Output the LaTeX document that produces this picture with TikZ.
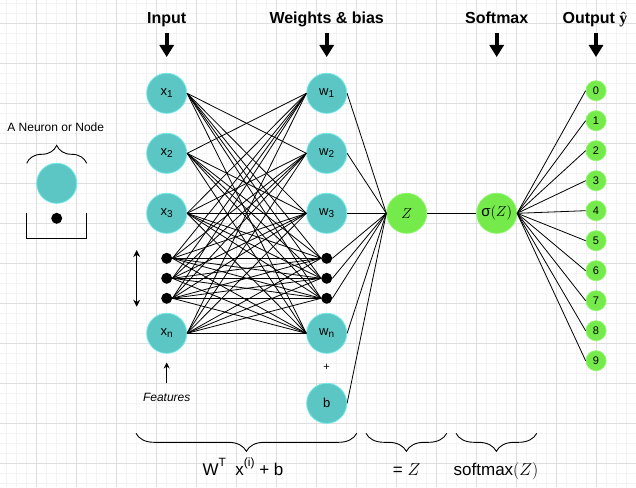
\documentclass[tikz,border=0pt]{standalone}
\usepackage{fontspec}
\setmainfont{Liberation Sans}
\newfontfamily\serifbold{Liberation Serif}
\usetikzlibrary{arrows.meta,decorations.pathreplacing}
\definecolor{gridmaj}{RGB}{222,222,222}
\definecolor{gridmin}{RGB}{243,243,243}
\definecolor{tealfill}{RGB}{92,198,196}
\definecolor{tealedge}{RGB}{110,232,232}
\definecolor{grnfill}{RGB}{116,235,74}
\definecolor{grnedge}{RGB}{140,246,104}
\newcommand{\mysub}[1]{\raisebox{-0.35ex}{\fontsize{10}{12}\selectfont #1}}
\newcommand{\mysup}[1]{\raisebox{0.9ex}{\fontsize{12}{14}\selectfont #1}}
\begin{document}
\begin{tikzpicture}[x=1pt,y=-1pt,
  neuron/.style={circle,minimum size=40pt,inner sep=0pt,fill=tealfill,draw=tealedge,line width=0.8pt,font=\fontsize{13}{15}\selectfont},
  gneuron/.style={circle,minimum size=40pt,inner sep=0pt,fill=grnfill,draw=grnedge,line width=0.8pt,font=\fontsize{15}{17}\selectfont},
  outn/.style={circle,minimum size=20pt,inner sep=0pt,fill=grnfill,draw=grnedge,line width=0.8pt,font=\fontsize{11}{13}\selectfont},
  dotn/.style={circle,minimum size=11pt,inner sep=0pt,fill=black},
  conn/.style={draw=black,line width=0.8pt},
  header/.style={anchor=base,font=\fontsize{16}{19}\selectfont\bfseries},
  bigarrow/.style={line width=3.6pt,-{Triangle[width=14pt,length=12pt]}},
  thinarrow/.style={line width=1pt},
  bracestyle/.style={draw=black,line width=0.9pt,decorate,decoration={brace,amplitude=18pt}},
  lbl/.style={anchor=base,font=\fontsize{17}{20}\selectfont}
]
\useasboundingbox (0,0) rectangle (636,487);
\fill[white] (0,0) rectangle (636,487);
% grid
\foreach \x in {6.7,16.7,...,636} \draw[gridmin,line width=0.8pt] (\x,0) -- (\x,487);
\foreach \y in {3.3,13.3,...,487} \draw[gridmin,line width=0.8pt] (0,\y) -- (636,\y);
\foreach \x in {36.7,76.7,...,636} \draw[gridmaj,line width=0.8pt] (\x,0) -- (\x,487);
\foreach \y in {23.3,63.3,...,487} \draw[gridmaj,line width=0.8pt] (0,\y) -- (636,\y);

% headers
\node[header] (hin) at (166.7,23.3) {Input};
\node[header] (hw) at (326.7,23.3) {Weights \& bias};
\node[header] (hs) at (496.7,23.3) {Softmax};
\node[header] (ho) at (595,23.3) {Output {\serifbold ŷ}};
\foreach \n/\x in {1/166.7,2/326.7,3/496.7,4/596} {
  \coordinate (as\n) at (\x,33);
  \coordinate (ae\n) at (\x,57);
  \draw[bigarrow] (as\n) -- (ae\n);
}

% input column
\node[neuron] (x1) at (166.7,93.3) {x\mysub{1}};
\node[neuron] (x2) at (166.7,153.3) {x\mysub{2}};
\node[neuron] (x3) at (166.7,213.3) {x\mysub{3}};
\node[dotn] (xd1) at (166.7,258.3) {};
\node[dotn] (xd2) at (166.7,278.3) {};
\node[dotn] (xd3) at (166.7,298.3) {};
\node[neuron] (xn) at (166.7,333.3) {x\mysub{n}};

% weight column
\node[neuron] (w1) at (326.7,93.3) {w\mysub{1}};
\node[neuron] (w2) at (326.7,153.3) {w\mysub{2}};
\node[neuron] (w3) at (326.7,213.3) {w\mysub{3}};
\node[dotn] (wd1) at (326.7,258.3) {};
\node[dotn] (wd2) at (326.7,278.3) {};
\node[dotn] (wd3) at (326.7,298.3) {};
\node[neuron] (wn) at (326.7,333.3) {w\mysub{n}};
\node[font=\fontsize{11}{13}\selectfont] (plus) at (326.7,367.7) {+};
\node[neuron] (b) at (326.7,403.3) {b};

% Z and sigma
\node[gneuron] (z) at (406.7,213.3) {$Z$};
\node[gneuron] (s) at (496.7,213.3) {σ$(Z)$};

% outputs
\foreach \k in {0,...,9} {
  \node[outn] (o\k) at (596,90.7+30*\k) {\k};
}

% connections input -> weights (all pairs except x1-w1 and x2-w2)
\foreach \a in {x3,xd1,xd2,xd3,xn} {
  \foreach \b in {w1,w2,w3,wd1,wd2,wd3,wn} {
    \draw[conn] (\a.east) -- (\b.west);
  }
}
\foreach \b in {w2,w3,wd1,wd2,wd3,wn} \draw[conn] (x1.east) -- (\b.west);
\foreach \b in {w1,w3,wd1,wd2,wd3,wn} \draw[conn] (x2.east) -- (\b.west);
% weights -> Z
\foreach \b in {w1,w2,w3,wd1,wd2,wd3,wn,b} \draw[conn] (\b.east) -- (z.west);
\draw[conn] (z.east) -- (s.west);
\foreach \k in {0,...,9} \draw[conn] (s.east) -- (o\k.west);

% left legend
\node[anchor=base,font=\fontsize{12}{14}\selectfont] (leg) at (55.7,131.7) {A Neuron or Node};
\coordinate (lbl) at (26.7,163.3);
\coordinate (lbr) at (86.7,163.3);
\draw[bracestyle] (lbl) -- (lbr);
\node[neuron] (legc) at (56.7,183.3) {};
\node[dotn] (legd) at (56.7,218.3) {};
\coordinate (bk1) at (26.7,213.3);
\coordinate (bk2) at (26.7,238.3);
\coordinate (bk3) at (86.7,238.3);
\coordinate (bk4) at (86.7,213.3);
\draw[line width=0.9pt] (bk1) -- (bk2) -- (bk3) -- (bk4);

% vertical double arrow
\coordinate (da1) at (136.7,250);
\coordinate (da2) at (136.7,306.7);
\draw[thinarrow,{Stealth[length=7pt,width=7pt]}-{Stealth[length=7pt,width=7pt]}] (da1) -- (da2);

% features
\node[anchor=base,font=\fontsize{12}{14}\selectfont\itshape] (feat) at (166.7,401.7) {Features};
\coordinate (fa1) at (166.7,383.3);
\coordinate (fa2) at (166.7,362.5);
\draw[thinarrow,-{Stealth[length=6pt,width=6pt]}] (fa1) -- (fa2);

% bottom braces
\coordinate (b1l) at (136,433.3);
\coordinate (b1r) at (356.7,433.3);
\coordinate (b2l) at (366,433.3);
\coordinate (b2r) at (446.7,433.3);
\coordinate (b3l) at (456,433.3);
\coordinate (b3r) at (536.7,433.3);
\draw[bracestyle] (b1r) -- (b1l);
\draw[bracestyle] (b2r) -- (b2l);
\draw[bracestyle] (b3r) -- (b3l);
\node[lbl] (l1) at (243,475) {W\mysup{T}\ \ x\mysup{(i)} + b};
\node[lbl] (l2) at (406.7,475) {= $Z$};
\node[lbl] (l3) at (496,475) {softmax$(Z)$};
\end{tikzpicture}
\end{document}
